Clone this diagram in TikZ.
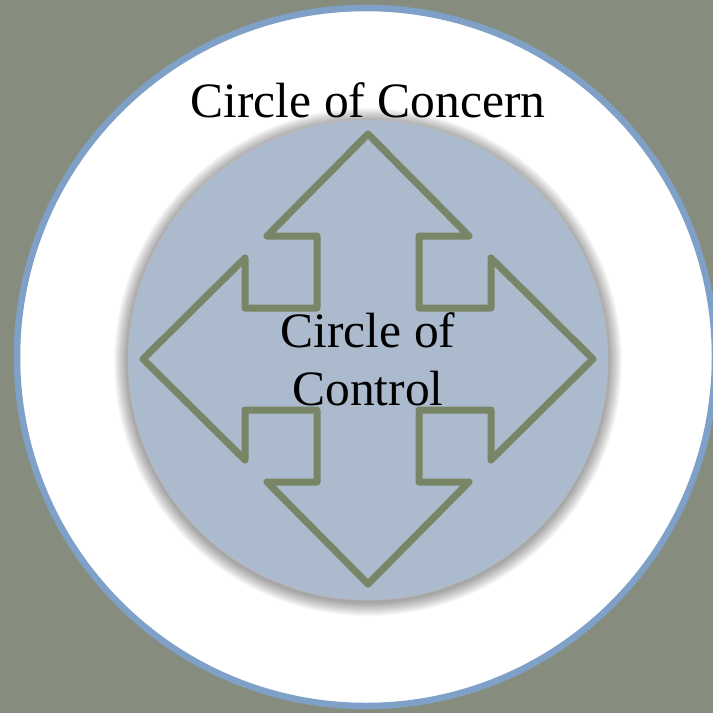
\documentclass[tikz,border=0pt]{standalone}
\usepackage{fontspec}
\setmainfont{Liberation Serif}
\definecolor{concerngray}{RGB}{134, 141, 126}
\definecolor{ringblue}{RGB}{127, 160, 199}
\definecolor{controlblue}{RGB}{171, 186, 205}
\definecolor{arrowgreen}{RGB}{120, 133, 103}
\usepackage{tikz}
\usetikzlibrary{positioning}

\begin{document}
\begin{tikzpicture}[
  x=1pt, y=-1pt,
  label/.style={font=\fontsize{49.5}{58}\selectfont, text=black, inner sep=0pt, align=center},
  ring/.style={draw=ringblue, line width=6.5pt, fill=white},
  crossarrow/.style={draw=arrowgreen, line width=7pt, line join=round}
]
  \useasboundingbox (0,0) rectangle (713,713);
  \fill[concerngray] (0,0) rectangle (713,713);

  % outer circle
  \draw[ring] (366,357) circle[radius=349];

  % blurred halo round the inner circle
  \foreach \r in {254,253,...,241}
    \fill[black, opacity=0.028] (368,362) circle[radius=\r];
  \fill[controlblue] (368,360) circle[radius=240];
  \draw[black!25, opacity=0.5, line width=1pt] (368,360) circle[radius=240];

  % four way arrow
  \draw[crossarrow] (419,410) -- (491,410) -- (491,460) -- (593,359) -- (491,258) -- (491,308)
    -- (419,308) -- (419,236) -- (469,236) -- (368,134) -- (267,236) -- (317,236)
    -- (317,308) -- (245,308) -- (245,258) -- (143,359) -- (245,460) -- (245,410)
    -- (317,410) -- (317,482) -- (267,482) -- (368,584) -- (469,482) -- (419,482) -- cycle;

  \node[label, anchor=base] (concern) at (368,117) {Circle of Concern};
  \node[label] (control) at (368,359) {Circle of\\Control};
\end{tikzpicture}
\end{document}
